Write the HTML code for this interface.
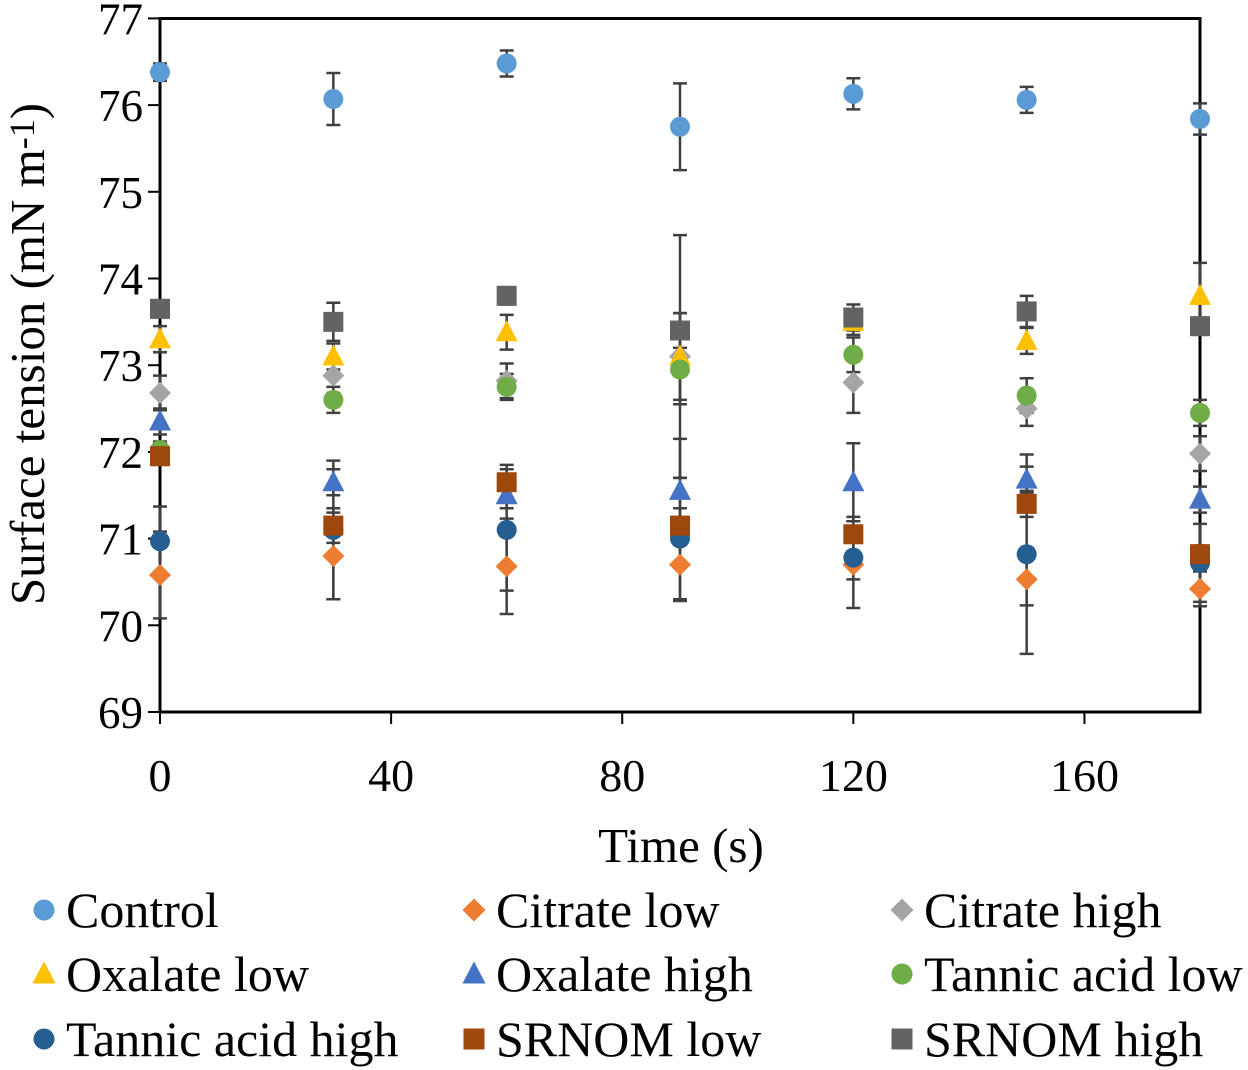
<!DOCTYPE html>
<html><head><meta charset="utf-8"><style>
html,body{margin:0;padding:0;background:#fff;}
svg{display:block;font-family:"Liberation Serif",serif;}
</style></head><body>
<svg id="chart" width="1248" height="1070" xmlns="http://www.w3.org/2000/svg">
<rect x="160" y="18.5" width="1040" height="693.5" fill="none" stroke="#000" stroke-width="3"/>
<g id="axes"></g>
<g id="marks"></g>
<text x="681" y="862" font-size="49" text-anchor="middle">Time (s)</text>
<text transform="translate(44,354) rotate(-90)" font-size="49" text-anchor="middle">Surface tension (mN m<tspan font-size="36" dy="-10">-1</tspan><tspan dy="10">)</tspan></text>
<g id="legend"></g>
</svg>
<script>
const times=[0,30,60,90,120,150,180];
const xTicks=[0,40,80,120,160];
const yTicks=[69,70,71,72,73,74,75,76,77];
const seriesNames=["Control","Citrate low","Citrate high","Oxalate low","Oxalate high","Tannic acid low","Tannic acid high","SRNOM low","SRNOM high"];
const control=[76.38,76.07,76.48,75.75,76.13,76.06,75.84];
const controlErr=[0.1,0.3,0.15,0.5,0.18,0.15,0.18];
const citrateLow=[70.58,70.8,70.68,70.7,70.7,70.53,70.42];
const citrateLowErr=[0.5,0.5,0.55,0.42,0.5,0.3,0.2];
const citrateHigh=[72.68,72.88,72.82,73.1,72.8,72.5,71.98];
const citrateHighErr=[0.2,0.2,0.2,1.4,0.35,0.2,0.2];
const oxalateLow=[73.3,73.1,73.38,73.1,73.5,73.28,73.8];
const oxalateLowErr=[0.15,0.15,0.2,0.5,0.15,0.15,0.38];
const oxalateHigh=[72.35,71.65,71.5,71.55,71.65,71.68,71.45];
const oxalateHighErr=[0.15,0.15,0.15,0.6,0.45,0.15,0.15];
const tannicLow=[72.02,72.6,72.75,72.95,73.12,72.65,72.45];
const tannicLowErr=[0.1,0.15,0.15,0.4,0.2,0.2,0.15];
const tannicHigh=[70.97,71.1,71.1,71.0,70.78,70.82,70.72];
const tannicHighErr=[0.4,0.8,0.7,0.7,0.25,1.15,0.45];
const srnomLow=[71.95,71.15,71.65,71.15,71.05,71.4,70.82];
const srnomLowErr=[0.1,0.2,0.2,0.2,0.2,0.15,0.1];
const srnomHigh=[73.65,73.5,73.8,73.4,73.55,73.62,73.45];
const srnomHighErr=[0.1,0.22,0.1,0.2,0.15,0.18,0.1];
const NS="http://www.w3.org/2000/svg";
const X=t=>160+t*(1040/180);
const Y=v=>712-(v-69)*86.7;
function mk(tag,attrs,parent){const e=document.createElementNS(NS,tag);for(const k in attrs)e.setAttribute(k,attrs[k]);parent.appendChild(e);return e;}
const axes=document.getElementById('axes');
yTicks.forEach(v=>{
 const l=mk('line',{x1:148,x2:160,y1:Y(v),y2:Y(v),stroke:'#000','stroke-width':2},axes);
 
 
 const t=mk('text',{x:143,y:Y(v)+16,'font-size':45,'text-anchor':'end'},axes);t.textContent=v;
 
 
});
xTicks.forEach(v=>{
 const l=mk('line',{x1:X(v),x2:X(v),y1:712,y2:724,stroke:'#000','stroke-width':2},axes);
 
 
 const t=mk('text',{x:X(v),y:791,'font-size':46,'text-anchor':'middle'},axes);t.textContent=v;
 
 
});
const data=[control,citrateLow,citrateHigh,oxalateLow,oxalateHigh,tannicLow,tannicHigh,srnomLow,srnomHigh];
const errs=[controlErr,citrateLowErr,citrateHighErr,oxalateLowErr,oxalateHighErr,tannicLowErr,tannicHighErr,srnomLowErr,srnomHighErr];
const colors=["#5B9BD5","#ED7D31","#A5A5A5","#FFC000","#4472C4","#70AD47","#255E91","#9E480E","#636363"];
const shapes=["circle","diamond","diamond","tri","tri","circle","circle","square","square"];
function marker(shape,cx,cy,color,parent,s){
 s=s||1;
 if(shape==='circle')return mk('circle',{cx:cx,cy:cy,r:10*s,fill:color},parent);
 if(shape==='diamond')return mk('polygon',{points:`${cx},${cy-11*s} ${cx+11*s},${cy} ${cx},${cy+11*s} ${cx-11*s},${cy}`,fill:color},parent);
 if(shape==='tri')return mk('polygon',{points:`${cx},${cy-12*s} ${cx+11*s},${cy+9*s} ${cx-11*s},${cy+9*s}`,fill:color},parent);
 return mk('rect',{x:cx-10*s,y:cy-10*s,width:20*s,height:20*s,fill:color},parent);
}
const marks=document.getElementById('marks');
const eg=mk('g',{},marks);const pg=mk('g',{},marks);
data.forEach((ser,i)=>{
 ser.forEach((v,j)=>{
  const x=X(times[j]),e=errs[i][j];
  const y1=Y(v+e),y2=Y(v-e);
  const b=mk('path',{d:`M${x},${y1}V${y2}M${x-7},${y1}H${x+7}M${x-7},${y2}H${x+7}`,stroke:'#404040','stroke-width':2.5,fill:'none'},eg);
  
  
  const m=marker(shapes[i],x,Y(v),colors[i],pg);
  
  
 });
});
const lg=document.getElementById('legend');
const colX=[44,474,902],rowY=[912,976,1041];
seriesNames.forEach((n,i)=>{
 const cx=colX[i%3],cy=rowY[Math.floor(i/3)];
 const g=mk('g',{},lg);
 
 
 marker(shapes[i],cx,cy-2,colors[i],g,1.05);
 const t=mk('text',{x:cx+22,y:cy+15,'font-size':50},g);t.textContent=n;
});
</script>
</body></html>
